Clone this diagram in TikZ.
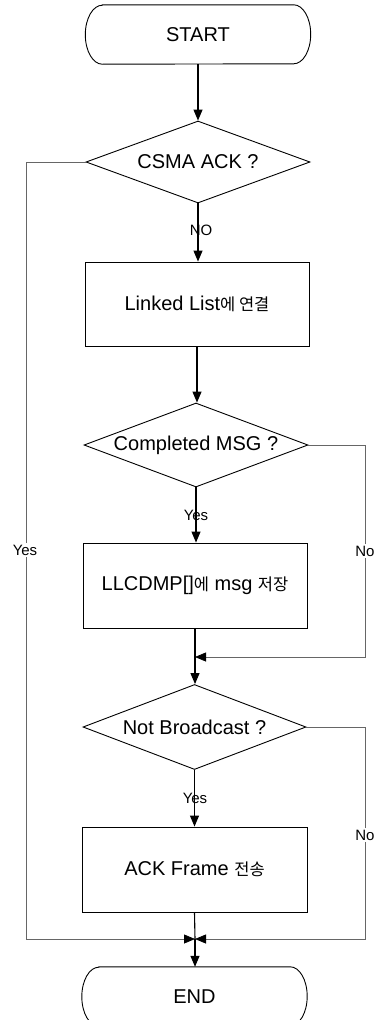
\documentclass[tikz,border=0pt]{standalone}
\usepackage{fontspec}
\setmainfont{Liberation Sans}
\newfontfamily\kr{Noto Sans CJK KR}
\usetikzlibrary{shapes.geometric,arrows.meta}
\newcommand{\hg}[1]{{\kr\fontsize{16.5}{16.5}\selectfont #1}}
\begin{document}
\begin{tikzpicture}[x=1pt,y=1pt,
  shapeline/.style={draw=black, line width=0.9pt},
  termbox/.style={draw=none, minimum width=225pt, minimum height=59pt, inner sep=0pt, font=\fontsize{20}{20}\selectfont},
  procbox/.style={shapeline, minimum width=224pt, minimum height=84pt, inner sep=0pt, font=\fontsize{20}{20}\selectfont},
  decision/.style={shapeline, diamond, minimum width=224pt, minimum height=83pt, inner sep=0pt},
  dtext/.style={font=\fontsize{20}{20}\selectfont},
  mainline/.style={draw=black, line width=1.1pt},
  arr/.style={-{Triangle[length=11pt,width=9pt,color=black]}},
  sideline/.style={draw=black!60, line width=0.8pt},
  lab/.style={font=\fontsize{15}{15}\selectfont, inner sep=1pt},
  sidelab/.style={lab, fill=white, inner sep=2pt}
]
\useasboundingbox (0,0) rectangle (378,-1020);

% terminals
\node[termbox] (start) at (198,-34.5) {START};
\draw[shapeline] ([xshift=17pt]start.north west) -- ([xshift=-17pt]start.north east)
  arc[start angle=90,end angle=-90,x radius=17pt,y radius=29.5pt]
  -- ([xshift=17pt]start.south west)
  arc[start angle=270,end angle=90,x radius=17pt,y radius=29.5pt] -- cycle;

\node[termbox] (end) at (194.5,-996.5) {END};
\draw[shapeline] ([xshift=17pt]end.north west) -- ([xshift=-17pt]end.north east)
  arc[start angle=90,end angle=-90,x radius=17pt,y radius=29.5pt]
  -- ([xshift=17pt]end.south west)
  arc[start angle=270,end angle=90,x radius=17pt,y radius=29.5pt] -- cycle;

% decisions
\node[decision, minimum height=82pt] (csma) at (198,-162) {};
\node[dtext] at (csma) {CSMA ACK ?};
\node[decision, minimum height=84pt] (comp) at (196,-445) {};
\node[dtext] at (comp) {Completed MSG ?};
\node[decision, minimum width=223pt, minimum height=85pt] (bcast) at (194.5,-727) {};
\node[dtext] at (bcast) {Not Broadcast ?};

% process boxes
\node[procbox] (link) at (197,-304) {Linked List\hg{에 연결}};
\node[procbox, minimum height=85pt] (llc) at (195,-585.5) {LLCDMP[]\hg{에} msg \hg{저장}};
\node[procbox, minimum width=225pt, minimum height=85pt] (ack) at (194.5,-869.5) {ACK Frame \hg{전송}};

% merge points and side rails
\coordinate (m1) at (195,-657);
\coordinate (m2) at (195,-939);
\coordinate (lx) at (26,0);
\coordinate (rx) at (365,0);

% main flow
\draw[mainline,arr] (start.south) -- (start.south |- csma.north);
\draw[mainline,arr] (csma.south) -- (csma.south |- link.north);
\draw[mainline,arr] (link.south) -- (link.south |- comp.north);
\draw[mainline,arr] (comp.south) -- (comp.south |- llc.north);
\draw[mainline,arr] (llc.south) -- (llc.south |- bcast.north);
\draw[mainline,arr] (bcast.south) -- (bcast.south |- ack.north);
\draw[mainline] (ack.south) -- (m2);
\draw[mainline,arr] (m2) -- (m2 |- end.north);

% side branches
\draw[sideline,arr] (csma.west) -- (csma.west -| lx) |- (m2);
\draw[sideline,arr] (comp.east) -- (comp.east -| rx) |- (m1);
\draw[sideline,arr] (bcast.east) -- (bcast.east -| rx) |- (m2);

% labels
\node[lab] at (201,-230) {NO};
\node[lab] at (196,-515) {Yes};
\node[lab] at (195,-798) {Yes};
\node[sidelab] at (25,-550) {Yes};
\node[sidelab] at (365,-551) {No};
\node[sidelab] at (365,-835) {No};
\end{tikzpicture}
\end{document}
